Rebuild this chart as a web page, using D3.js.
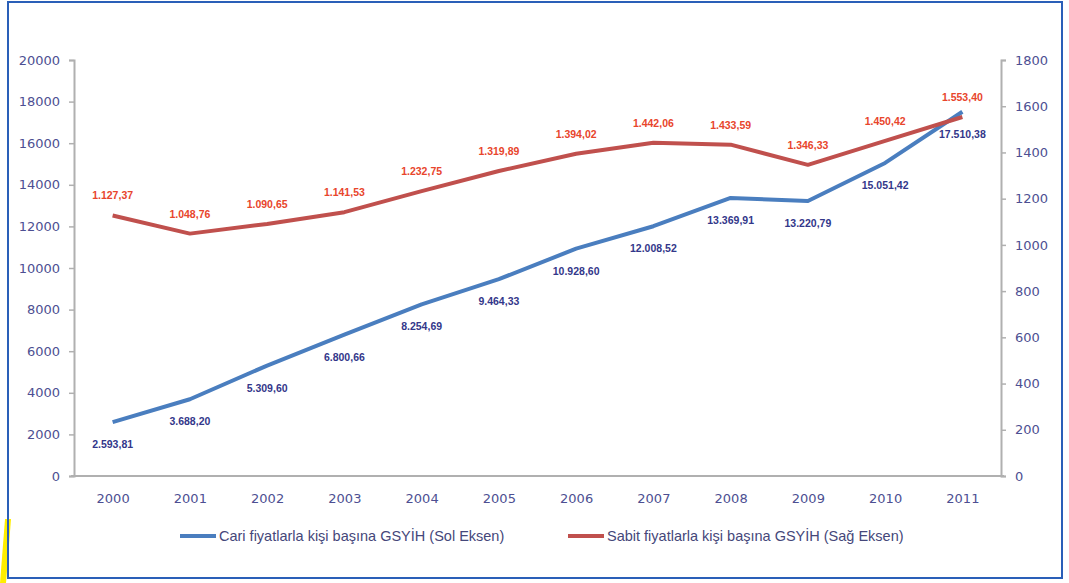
<!DOCTYPE html>
<html><head><meta charset="utf-8">
<script src="https://cdn.jsdelivr.net/npm/d3@7"></script>
<style>html,body{margin:0;padding:0;background:#fff;}svg{display:block;}</style>
</head><body>
<svg id="chart" width="1069" height="583"></svg>
<script>
const years = ["2000","2001","2002","2003","2004","2005","2006","2007","2008","2009","2010","2011"];
const cariValues = [2593.81,3688.20,5309.60,6800.66,8254.69,9464.33,10928.60,12008.52,13369.91,13220.79,15051.42,17510.38];
const sabitValues = [1127.37,1048.76,1090.65,1141.53,1232.75,1319.89,1394.02,1442.06,1433.59,1346.33,1450.42,1553.40];
const cariLabels = ["2.593,81","3.688,20","5.309,60","6.800,66","8.254,69","9.464,33","10.928,60","12.008,52","13.369,91","13.220,79","15.051,42","17.510,38"];
const sabitLabels = ["1.127,37","1.048,76","1.090,65","1.141,53","1.232,75","1.319,89","1.394,02","1.442,06","1.433,59","1.346,33","1.450,42","1.553,40"];
const leftTicks = [0,2000,4000,6000,8000,10000,12000,14000,16000,18000,20000];
const rightTicks = [0,200,400,600,800,1000,1200,1400,1600,1800];
const legendNames = ["Cari fiyatlarla kişi başına GSYİH (Sol Eksen)","Sabit fiyatlarla kişi başına GSYİH (Sağ Eksen)"];

const svg = d3.select("#chart");
const L = 74, R = 1001, T = 60, B = 476;
const blue = "#4a7ebf", red = "#c0504d";
const tickColor = "#4d4f92";

// frame
svg.append("polygon").attr("points","5,519 11,519 6,583 0,583").attr("fill","#ffee00");
svg.append("rect").attr("x",8).attr("y",2).attr("width",1054).attr("height",576)
  .attr("fill","none").attr("stroke","#2a5fb8").attr("stroke-width",2);

const x = d3.scalePoint().domain(years).range([L,R]).padding(0.5);
const yL = d3.scaleLinear().domain([0,20000]).range([B,T]);
const yR = d3.scaleLinear().domain([0,1800]).range([B,T]);

const fontTick = "'DejaVu Sans', sans-serif";

const gL = svg.append("g").attr("transform",`translate(${L},0)`)
  .call(d3.axisLeft(yL).tickValues(leftTicks).tickFormat(d3.format("d")).tickSize(5).tickPadding(9));
const gR = svg.append("g").attr("transform",`translate(${R},0)`)
  .call(d3.axisRight(yR).tickValues(rightTicks).tickFormat(d3.format("d")).tickSize(5).tickPadding(9));
const gB = svg.append("g").attr("transform",`translate(0,${B})`)
  .call(d3.axisBottom(x).tickSize(0).tickPadding(18));
[gL,gR,gB].forEach(g=>{
  g.select(".domain").attr("stroke","#b0b0b0").attr("stroke-width",2);
  g.selectAll(".tick line").attr("stroke","#b0b0b0").attr("stroke-width",1.5);
  g.selectAll(".tick text").attr("fill",tickColor).style("font-family",fontTick).style("font-size","13px");
});
gB.select(".domain").attr("d",`M${L-3},0H${R+3}`);

const lineL = d3.line().x((d,i)=>x(years[i])).y(d=>yL(d));
const lineR = d3.line().x((d,i)=>x(years[i])).y(d=>yR(d));

svg.append("path").datum(cariValues).attr("d",lineL).attr("fill","none")
  .attr("stroke",blue).attr("stroke-width",4).attr("stroke-linejoin","round");
svg.append("path").datum(sabitValues).attr("d",lineR).attr("fill","none")
  .attr("stroke",red).attr("stroke-width",4).attr("stroke-linejoin","round");

const fontLab = "'Liberation Sans', Arial, sans-serif";
svg.append("g").selectAll("text").data(cariValues).join("text")
  .attr("x",(d,i)=>x(years[i])).attr("y",d=>yL(d)+26)
  .attr("text-anchor","middle").attr("fill","#33378a")
  .style("font-family",fontLab).style("font-size","10.5px").style("font-weight","bold")
  .text((d,i)=>cariLabels[i]);
svg.append("g").selectAll("text").data(sabitValues).join("text")
  .attr("x",(d,i)=>x(years[i])).attr("y",d=>yR(d)-16)
  .attr("text-anchor","middle").attr("fill","#e8452c")
  .style("font-family",fontLab).style("font-size","10.5px").style("font-weight","bold")
  .text((d,i)=>sabitLabels[i]);

// legend
const legend = [{name:legendNames[0],color:blue,x:180},{name:legendNames[1],color:red,x:568}];
const lg = svg.append("g").selectAll("g").data(legend).join("g");
lg.append("line").attr("x1",d=>d.x).attr("x2",d=>d.x+36).attr("y1",536).attr("y2",536)
  .attr("stroke",d=>d.color).attr("stroke-width",4);
lg.append("text").attr("x",d=>d.x+39).attr("y",541).attr("fill","#45477a")
  .style("font-family",fontLab).style("font-size","14.5px").text(d=>d.name);
</script>
</body></html>
